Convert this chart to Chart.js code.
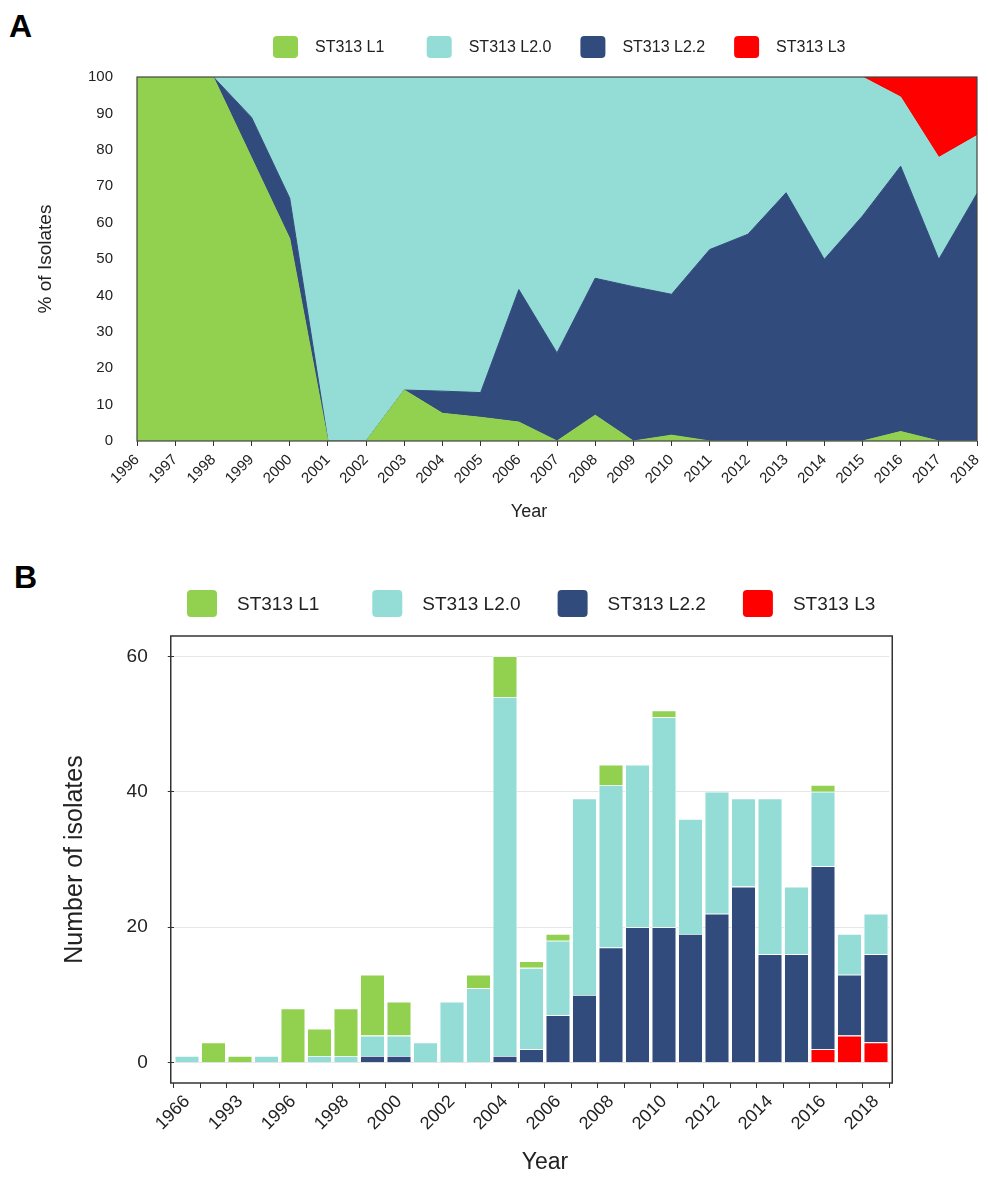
<!DOCTYPE html>
<html>
<head>
<meta charset="utf-8">
<title>ST313 lineages over time</title>
<script src="https://cdn.jsdelivr.net/npm/chart.js@4.4.1/dist/chart.umd.min.js"></script>
<style>
  html, body { margin: 0; padding: 0; background: #fff; }
  body { width: 988px; height: 1178px; position: relative; overflow: hidden;
         font-family: "Liberation Sans", Arial, sans-serif; }
  .panel-tag { position: absolute; font-weight: bold; font-size: 32px; line-height: 32px; color: #000; }
  #wrapA { position: absolute; left: 0; top: 0; width: 988px; height: 540px; }
  #wrapB { position: absolute; left: 0; top: 540px; width: 988px; height: 638px; }
</style>
</head>
<body>
<div class="panel-tag" style="left:9px;top:10px">A</div>
<div class="panel-tag" style="left:14px;top:561px">B</div>
<div id="wrapA"><canvas id="chartA"></canvas></div>
<div id="wrapB"><canvas id="chartB"></canvas></div>

<script>
const FONT = '"Liberation Sans", Arial, sans-serif';
const TEXT = '#222';

// Lineage names in legend order, and their colours
const lineageNames = ['ST313 L1', 'ST313 L2.0', 'ST313 L2.2', 'ST313 L3'];
const lineageColors = ['#92D050', '#93DDD6', '#324B7D', '#FF0000'];

// ---- Panel A: share of isolates per year (%) ----
const yearsA = ['1996','1997','1998','1999','2000','2001','2002','2003','2004','2005','2006','2007',
                '2008','2009','2010','2011','2012','2013','2014','2015','2016','2017','2018'];
const pctL1  = [100, 100, 100, 77.8, 55.6, 0, 0, 14, 7.6, 6.5, 5.2, 0, 7.1, 0, 1.6, 0, 0, 0, 0, 0, 2.6, 0, 0];
const pctL22 = [0, 0, 0, 11.1, 11.1, 0, 0, 0, 6.1, 6.8, 36.4, 24.2, 37.6, 42.4, 38.7, 52.6, 56.8, 68.2, 49.9, 61.8, 72.9, 49.9, 68];
const pctL20 = [0, 0, 0, 11.1, 33.3, 100, 100, 86, 86.3, 86.7, 58.4, 75.8, 55.3, 57.6, 59.7, 47.4, 43.2, 31.8, 50.1, 38.2, 19, 28, 15.9];
const pctL3  = [0, 0, 0, 0, 0, 0, 0, 0, 0, 0, 0, 0, 0, 0, 0, 0, 0, 0, 0, 0, 5.5, 22.1, 16.1];
const yTicksA = [0, 10, 20, 30, 40, 50, 60, 70, 80, 90, 100];

// ---- Panel B: number of isolates per year ----
const yearsB = ['1966','1988','1993','1995','1996','1997','1998','1999','2000','2001','2002','2003','2004',
                '2005','2006','2007','2008','2009','2010','2011','2012','2013','2014','2015','2016','2017','2018'];
const countL1  = [0, 3, 1, 0, 8, 4, 7, 9, 5, 0, 0, 2, 6, 1, 1, 0, 3, 0, 1, 0, 0, 0, 0, 0, 1, 0, 0];
const countL20 = [1, 0, 0, 1, 0, 1, 1, 3, 3, 3, 9, 11, 53, 12, 11, 29, 24, 24, 31, 17, 18, 13, 23, 10, 11, 6, 6];
const countL22 = [0, 0, 0, 0, 0, 0, 0, 1, 1, 0, 0, 0, 1, 2, 7, 10, 17, 20, 20, 19, 22, 26, 16, 16, 27, 9, 13];
const countL3  = [0, 0, 0, 0, 0, 0, 0, 0, 0, 0, 0, 0, 0, 0, 0, 0, 0, 0, 0, 0, 0, 0, 0, 0, 2, 4, 3];
const yTicksB = [0, 20, 40, 60];

function colorOf(name) { return lineageNames.indexOf(name) >= 0 ? lineageColors[lineageNames.indexOf(name)] : '#000'; }

// Legend drawn as a row of evenly spaced swatches
function legendPlugin(id, cfg) {
  return {
    id,
    afterDraw(chart) {
      const ctx = chart.ctx;
      ctx.save();
      ctx.font = cfg.size + 'px ' + FONT;
      ctx.textBaseline = 'middle';
      ctx.textAlign = 'left';
      lineageNames.forEach((name, i) => {
        const ds = chart.data.datasets.find(d => d.label === name);
        const x = cfg.x0 + i * cfg.step;
        ctx.fillStyle = ds.backgroundColor;
        ctx.beginPath();
        ctx.roundRect(x, cfg.y - cfg.h / 2, cfg.w, cfg.h, cfg.r);
        ctx.fill();
        ctx.fillStyle = TEXT;
        ctx.fillText(name, x + cfg.w + cfg.gap, cfg.y + 1);
      });
      ctx.restore();
    }
  };
}

// Box around the plotting area
function framePlugin(id, inset, color, width) {
  return {
    id,
    afterDatasetsDraw(chart) {
      const { ctx, chartArea: a } = chart;
      ctx.save();
      ctx.strokeStyle = color;
      ctx.lineWidth = width;
      ctx.strokeRect(a.left - inset, a.top, a.right - a.left + 2 * inset, a.bottom - a.top);
      ctx.restore();
    }
  };
}

// "Year" caption under the x axis
function xCaptionPlugin(id, text, x, y, size) {
  return {
    id,
    afterDraw(chart) {
      const ctx = chart.ctx;
      ctx.save();
      ctx.font = size + 'px ' + FONT;
      ctx.fillStyle = TEXT;
      ctx.textAlign = 'center';
      ctx.textBaseline = 'middle';
      ctx.fillText(text, x, y);
      ctx.restore();
    }
  };
}

function area(label, data, fill) {
  const c = colorOf(label);
  return { label, data, fill, backgroundColor: c, borderColor: c, borderWidth: 1, pointRadius: 0, tension: 0 };
}

// Stacked area: L1 at the bottom, then L2.2, L2.0 and L3 on top
new Chart(document.getElementById('chartA'), {
  type: 'line',
  data: {
    labels: yearsA,
    datasets: [
      area('ST313 L1', pctL1, 'origin'),
      area('ST313 L2.2', pctL22, '-1'),
      area('ST313 L2.0', pctL20, '-1'),
      area('ST313 L3', pctL3, '-1')
    ]
  },
  options: {
    responsive: true,
    maintainAspectRatio: false,
    animation: false,
    layout: { padding: { top: 77, right: 11, left: 0, bottom: 0 } },
    plugins: { legend: { display: false }, tooltip: { enabled: false } },
    scales: {
      x: {
        grid: { drawOnChartArea: false, drawTicks: true, tickLength: 5, color: '#333' },
        border: { display: false },
        ticks: { autoSkip: false, maxRotation: 45, minRotation: 45, padding: 5, color: TEXT,
                 font: { family: FONT, size: 15 } },
        afterFit: s => { s.height = 99; s.paddingLeft = 0; s.paddingRight = 0; }
      },
      y: {
        stacked: true,
        min: 0, max: 100,
        afterBuildTicks: s => { s.ticks = yTicksA.map(v => ({ value: v })); },
        grid: { display: false, drawTicks: false },
        border: { display: false },
        ticks: { padding: 24, color: TEXT, font: { family: FONT, size: 15 } },
        title: { display: true, text: '% of Isolates', color: TEXT, font: { family: FONT, size: 19 },
                 padding: { top: 34, bottom: 0 } },
        afterFit: s => { s.width = 137; }
      }
    }
  },
  plugins: [
    framePlugin('frameA', 0, '#444', 1.2),
    legendPlugin('legendA', { x0: 273, step: 153.7, y: 47, w: 25, h: 22, r: 4, gap: 17, size: 16 }),
    xCaptionPlugin('captionA', 'Year', 529, 512, 18)
  ]
});

function bars(label, data) {
  return { label, data, backgroundColor: colorOf(label), borderColor: '#ffffff', borderWidth: 0.8,
           categoryPercentage: 0.93, barPercentage: 1 };
}

// Stacked bars: L3 at the bottom, then L2.2, L2.0 and L1 on top
new Chart(document.getElementById('chartB'), {
  type: 'bar',
  data: {
    labels: yearsB,
    datasets: [
      bars('ST313 L3', countL3),
      bars('ST313 L2.2', countL22),
      bars('ST313 L2.0', countL20),
      bars('ST313 L1', countL1)
    ]
  },
  options: {
    responsive: true,
    maintainAspectRatio: false,
    animation: false,
    layout: { padding: { top: 96, right: 98.75, left: 0, bottom: 0 } },
    plugins: { legend: { display: false }, tooltip: { enabled: false } },
    scales: {
      x: {
        stacked: true,
        grid: { drawOnChartArea: false, drawTicks: true, tickLength: 5, color: '#333' },
        border: { display: false },
        ticks: { autoSkip: false, maxRotation: 45, minRotation: 45, padding: 3, color: TEXT,
                 font: { family: FONT, size: 18 },
                 callback: (v, i) => (i % 2 === 0 ? yearsB[i] : '') },
        afterFit: s => { s.height = 95; s.paddingLeft = 0; s.paddingRight = 0; }
      },
      y: {
        stacked: true,
        min: -3, max: 63,
        afterBuildTicks: s => { s.ticks = yTicksB.map(v => ({ value: v })); },
        grid: { color: '#e6e6e6', drawTicks: true, tickLength: 6, tickColor: '#333' },
        border: { display: false },
        ticks: { padding: 20, color: TEXT, font: { family: FONT, size: 19 } },
        title: { display: true, text: 'Number of isolates', color: TEXT, font: { family: FONT, size: 25 },
                 padding: { top: 60, bottom: 0 } },
        afterFit: s => { s.width = 173.75; }
      }
    }
  },
  plugins: [
    framePlugin('frameB', 3, '#333', 1.5),
    legendPlugin('legendB', { x0: 187, step: 185.3, y: 63.5, w: 30, h: 27, r: 4, gap: 20, size: 19 }),
    xCaptionPlugin('captionB', 'Year', 545, 623, 23)
  ]
});
</script>
</body>
</html>
